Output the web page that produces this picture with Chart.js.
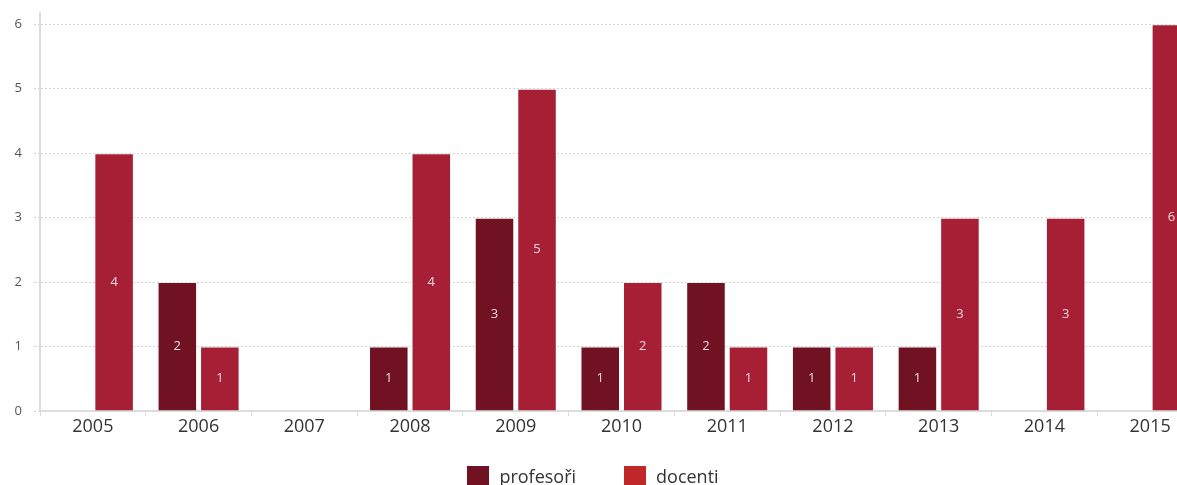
<!DOCTYPE html>
<html>
<head>
<meta charset="utf-8">
<script src="https://cdn.jsdelivr.net/npm/chart.js@4.4.3/dist/chart.umd.min.js"></script>
<style>
  html, body { margin: 0; padding: 0; background: #fff; overflow: hidden; }
  #wrap { position: absolute; left: -16px; top: 0; width: 1219px; height: 485px; }
  #legend {
    position: absolute; left: 0; top: 464px; width: 1186px;
    display: flex; justify-content: center; gap: 48px;
    font: 18px "Open Sans", sans-serif; color: #333;
  }
  #legend .item { display: flex; align-items: center; height: 24px; line-height: 24px; }
  #legend .sw { width: 22px; height: 20px; margin-right: 10px; }
</style>
</head>
<body>
<div id="wrap"><canvas id="chart" width="1219" height="485"></canvas></div>
<div id="legend"></div>
<script>
// chart data
const years = ['2005', '2006', '2007', '2008', '2009', '2010', '2011', '2012', '2013', '2014', '2015'];
const profesori = [0, 2, 0, 1, 3, 1, 2, 1, 1, 0, 0];
const docenti = [4, 1, 0, 4, 5, 2, 1, 1, 3, 3, 6];
const yTicks = [0, 1, 2, 3, 4, 5, 6];

const seriesNames = ['profesoři', 'docenti'];
const barColors = ['#701221', '#a61f35'];
const legendColors = ['#701221', '#c0282a'];

// value labels in the middle of every non-zero bar
const barValueLabels = {
  id: 'barValueLabels',
  afterDatasetsDraw(chart) {
    const ctx = chart.ctx;
    ctx.save();
    ctx.font = '13px "Open Sans", sans-serif';
    ctx.fillStyle = '#ead9dc';
    ctx.textAlign = 'center';
    ctx.textBaseline = 'middle';
    chart.data.datasets.forEach((ds, i) => {
      chart.getDatasetMeta(i).data.forEach((bar, j) => {
        const v = ds.data[j];
        if (!v) return;
        ctx.fillText(String(v), bar.x, (bar.y + bar.base) / 2);
      });
    });
    ctx.restore();
  }
};

const plotBottom = 411;

const chart = new Chart(document.getElementById('chart'), {
  type: 'bar',
  data: {
    labels: years,
    datasets: [
      { label: seriesNames[0], data: profesori, backgroundColor: barColors[0] },
      { label: seriesNames[1], data: docenti, backgroundColor: barColors[1] }
    ]
  },
  options: {
    responsive: false,
    animation: false,
    devicePixelRatio: 1,
    categoryPercentage: 0.804,
    barPercentage: 0.93,
    borderWidth: 1,
    borderColor: 'rgba(255,255,255,0.2)',
    layout: { padding: { top: 10.7, right: 0, bottom: 0, left: 0 } },
    plugins: {
      tooltip: { enabled: false },
      legend: { display: false }
    },
    scales: {
      x: {
        grid: { display: true, drawOnChartArea: false, drawTicks: true, tickLength: 5, color: '#dcdcdc', offset: true },
        border: { color: '#dcdcdc', width: 2 },
        ticks: { color: '#333', padding: 0, font: { family: '"Open Sans", sans-serif', size: 18 } },
        afterFit(s) { s.height = s.chart.height - plotBottom; }
      },
      y: {
        min: 0,
        max: 6.17,
        grid: { color: '#d4d4d4', tickLength: 6, lineWidth: 1, tickBorderDash: [2, 2] },
        border: { color: '#dcdcdc', width: 2, dash: [2, 2] },
        ticks: { stepSize: 1, padding: 12, color: '#555', font: { family: '"Open Sans", sans-serif', size: 13, lineHeight: 0.2 } },
        afterBuildTicks(s) { s.ticks = yTicks.map(v => ({ value: v })); },
        afterFit(s) { s.width = 56; }
      }
    }
  },
  plugins: [barValueLabels]
});

// legend built from the series names
const legendEl = document.getElementById('legend');
seriesNames.forEach((name, i) => {
  const item = document.createElement('div');
  item.className = 'item';
  const sw = document.createElement('span');
  sw.className = 'sw';
  sw.style.background = legendColors[i];
  const tx = document.createElement('span');
  tx.textContent = name;
  item.appendChild(sw);
  item.appendChild(tx);
  legendEl.appendChild(item);
});
</script>
</body>
</html>
